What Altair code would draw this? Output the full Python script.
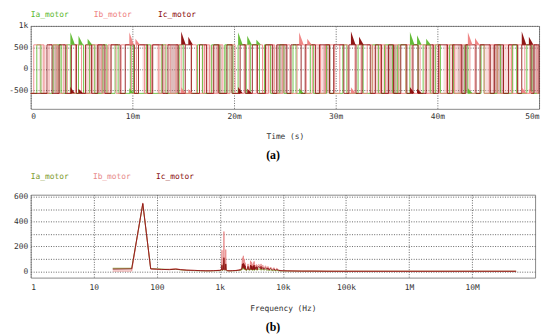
import altair as alt
import pandas as pd

# ---------------- data ----------------
SERIES = ["Ia_motor", "Ib_motor", "Ic_motor"]
TOP_COLORS = ["#5cb82e", "#ee8080", "#8b0a0a"]
BAND_COLORS = ["#a8d890", "#f2b4b4", "#b86a6a"]
BOT_COLORS = ["#7d9a2c", "#e78a8a", "#8b1010"]

HIGH, LOW = 560, -570

# switching instants (ms) of each phase current, toggling HIGH/LOW
ia_switch = [0.6, 1.0, 2.2, 3.0, 3.5, 3.9, 4.7, 5.2, 5.8, 6.3, 7.1, 7.5, 8.3, 8.6, 9.8, 10.1,
             11.4, 11.8, 12.9, 13.3, 14.6, 15.0, 16.4, 16.9, 17.8, 18.6, 19.1, 19.9, 20.4, 21.2,
             21.6, 22.5, 23.0, 23.6, 24.5, 24.9, 25.8, 26.1, 27.5, 27.8, 29.1, 29.4, 30.7, 31.1,
             32.2, 32.7, 33.6, 34.2, 34.8, 35.6, 36.1, 36.9, 37.3, 38.1, 38.6, 39.3, 39.8, 40.3,
             41.2, 41.6, 42.7, 43.0, 44.3, 44.6, 45.9, 46.2, 47.4, 47.8, 48.8, 49.3]
ib_switch = [0.3, 1.3, 1.8, 2.6, 3.2, 3.6, 4.4, 5.0, 6.0, 7.0, 7.6, 8.4, 8.9, 9.9, 10.4, 11.2,
             11.9, 12.6, 13.2, 13.7, 14.3, 14.8, 15.8, 16.3, 17.1, 17.6, 18.4, 18.9, 19.6, 20.1,
             21.0, 21.5, 22.2, 22.8, 23.4, 24.0, 24.8, 25.5, 26.2, 27.1, 27.7, 28.5, 29.0, 29.9,
             30.4, 31.2, 31.9, 32.5, 33.1, 33.6, 34.4, 34.9, 35.7, 36.2, 36.9, 37.5, 38.3, 38.8,
             39.5, 40.2, 40.9, 41.7, 42.3, 43.2, 43.7, 44.6, 45.1, 45.9, 46.5, 47.3, 47.9, 48.6,
             49.1, 49.8]
ic_switch = [1.6, 2.1, 2.8, 3.4, 4.0, 4.5, 5.4, 6.0, 6.6, 7.3, 7.9, 8.8, 9.3, 10.2, 10.6, 11.5,
             12.0, 13.0, 13.5, 14.5, 15.2, 15.8, 16.6, 17.3, 18.0, 18.5, 19.3, 19.8, 20.6, 21.1,
             21.8, 22.3, 23.1, 23.8, 24.2, 25.2, 25.6, 26.6, 27.0, 28.0, 28.4, 29.4, 29.8, 30.8,
             31.3, 32.0, 32.6, 33.4, 33.9, 34.5, 35.2, 35.7, 36.4, 37.0, 37.6, 38.1, 38.9, 39.6,
             40.1, 41.0, 41.5, 42.4, 42.8, 43.8, 44.2, 45.2, 45.6, 46.5, 47.0, 47.9, 48.3, 49.2,
             49.5, 50.0]

# intervals (ms) of very fast switching, seen as shaded bands
ia_bands = [(2.4, 3.0), (19.0, 19.8), (35.6, 36.4)]
ib_bands = [(0.8, 1.5), (5.3, 6.8), (7.2, 8.0), (11.0, 12.0), (12.4, 13.0), (16.8, 18.2),
            (22.9, 24.0), (27.9, 29.0), (33.5, 35.0), (39.0, 40.0), (40.6, 42.0),
            (44.7, 46.0), (46.5, 47.5)]
ic_bands = [(2.2, 2.8), (6.5, 7.2), (13.7, 14.6), (18.2, 18.8), (24.2, 25.2), (28.8, 29.5),
            (35.0, 36.0), (42.0, 43.0), (45.5, 46.5), (49.2, 50.0)]

# current spikes: (ms, peak value) on top level and on bottom level
ia_spk_up = [(3.9, 850), (4.7, 770), (5.6, 700), (20.4, 850), (21.3, 770), (22.2, 680),
             (37.3, 860), (38.0, 780), (38.9, 700)]
ib_spk_up = [(9.7, 850), (10.3, 700), (26.4, 850), (27.2, 700), (43.0, 850), (43.7, 720)]
ic_spk_up = [(14.8, 870), (15.5, 750), (31.5, 870), (32.3, 750), (48.3, 870), (49.0, 750)]
ia_spk_dn = [(9.7, -450), (26.4, -450), (43.0, -450)]
ib_spk_dn = [(14.8, -430), (15.5, -470), (31.5, -430), (48.3, -430), (49.0, -470)]
ic_spk_dn = [(3.9, -420), (4.7, -460), (20.4, -420), (21.3, -460), (37.3, -420), (38.0, -460)]

# FFT
freqs = [20, 40, 60, 80, 100, 120, 160, 200, 240, 300, 400, 500, 600, 700, 800, 900, 1000,
         1040, 1060, 1080, 1100, 1120, 1140, 1160, 1180, 1200, 1220, 1240, 1260, 1280, 1300, 1340,
         1400, 1500, 1600, 1800, 2000, 2200,
         2240, 2280, 2320, 2360, 2400, 2440, 2480, 2520, 2560, 2600,
         2700, 2800, 2900, 3000,
         3080, 3120, 3160, 3200, 3240, 3300,
         3400, 3460, 3500, 3540, 3600,
         3700, 3800, 3900, 4000,
         4200, 4400, 4500, 4600, 4800, 5000,
         5300, 5600, 5800, 6000,
         6400, 6800, 7200, 7600, 8000,
         8500, 9000, 10000,
         12000, 15000, 20000, 30000, 50000, 1e5, 2e5, 5e5, 1e6, 1e7, 5e7]
fa = [25, 25, 540, 22, 20, 18, 15, 18, 12, 8, 6, 5, 4, 4, 5, 6, 6,
      8, 10, 60, 10, 8, 12, 90, 12, 8, 10, 55, 10, 8, 6, 5, 4, 4, 5, 6, 8, 10,
      20, 40, 15, 45, 20, 35, 12, 30, 10, 8,
      10, 25, 8, 12,
      35, 10, 30, 12, 28, 8,
      25, 10, 30, 8, 20,
      12, 22, 8, 18,
      20, 12, 22, 10, 18, 10,
      16, 8, 14, 7,
      12, 6, 10, 5, 8,
      5, 4, 4,
      3, 3, 2, 2, 1, 1, 1, 1, 1, 1, 1]
fb = [3, 3, 550, 20, 16, 14, 18, 22, 15, 10, 8, 6, 5, 5, 6, 8, 10,
      15, 20, 170, 15, 12, 20, 320, 20, 12, 15, 175, 15, 10, 8, 6, 5, 5, 6, 8, 12, 20,
      40, 110, 30, 125, 40, 100, 25, 70, 20, 15,
      20, 60, 15, 25,
      85, 20, 75, 25, 60, 15,
      70, 20, 80, 15, 50,
      25, 55, 15, 50,
      55, 30, 60, 25, 50, 20,
      45, 20, 40, 15,
      35, 15, 30, 12, 25,
      12, 8, 6,
      5, 4, 3, 3, 2, 1, 1, 1, 1, 1, 1]
fc = [18, 20, 545, 20, 18, 16, 14, 18, 14, 10, 8, 6, 5, 5, 6, 7, 8,
      10, 12, 50, 10, 10, 15, 110, 15, 10, 12, 60, 12, 8, 6, 5, 5, 5, 6, 7, 10, 15,
      30, 60, 25, 65, 30, 55, 20, 45, 15, 12,
      15, 40, 12, 20,
      50, 15, 45, 18, 40, 12,
      45, 15, 50, 12, 35,
      20, 38, 12, 35,
      38, 22, 40, 18, 32, 15,
      30, 15, 28, 12,
      24, 10, 20, 8, 16,
      9, 6, 5,
      4, 3, 2, 2, 1, 1, 1, 1, 1, 1, 1]

# ---------------- tables ----------------
rows = []
for name, sw in zip(SERIES, [ia_switch, ib_switch, ic_switch]):
    v = LOW
    rows.append({"s": name, "t": 0.0, "v": v})
    for t in sw:
        v = HIGH if v == LOW else LOW
        rows.append({"s": name, "t": t / 1000, "v": v})
    rows.append({"s": name, "t": 0.05, "v": v})
wave = pd.DataFrame(rows)

brows = []
for name, bl in zip(SERIES, [ia_bands, ib_bands, ic_bands]):
    for a, b in bl:
        brows.append({"s": name, "t": a / 1000, "t2": b / 1000, "v": LOW, "hi": HIGH})
bands = pd.DataFrame(brows)

sp = []
k = 0
for name, ups, dns in zip(SERIES, [ia_spk_up, ib_spk_up, ic_spk_up], [ia_spk_dn, ib_spk_dn, ic_spk_dn]):
    for lst, base in ((ups, HIGH), (dns, LOW)):
        for t, p in lst:
            sp.append({"s": name, "id": k, "t": t / 1000, "v": p, "b": base})
            sp.append({"s": name, "id": k, "t": (t + 0.45) / 1000, "v": base, "b": base})
            k += 1
spikes = pd.DataFrame(sp)

fft_rows = []
for name, vals in zip(SERIES, [fa, fb, fc]):
    for f, v in zip(freqs, vals):
        fft_rows.append({"s": name, "f": f, "v": v})
fft = pd.DataFrame(fft_rows)

# ---------------- chart ----------------
MONO = "DejaVu Sans Mono"
top_color = alt.Color("s:N", scale=alt.Scale(domain=SERIES, range=TOP_COLORS), legend=None)
band_color = alt.Color("s:N", scale=alt.Scale(domain=SERIES, range=BAND_COLORS), legend=None)
bot_color = alt.Color("s:N", scale=alt.Scale(domain=SERIES, range=BOT_COLORS), legend=None)


def legend_text(label, px, color, y):
    return alt.Chart(pd.DataFrame({"a": [0]})).mark_text(
        text=label, align="left", baseline="middle", font=MONO, fontSize=8, color=color
    ).encode(x=alt.value(px), y=alt.value(y))


tx = alt.X("t:Q", scale=alt.Scale(domain=[0, 0.05], nice=False, zero=False),
           axis=alt.Axis(values=[0, 0.01, 0.02, 0.03, 0.04, 0.05], title="Time (s)",
                         labelExpr="datum.value == 0 ? '0' : format(datum.value * 1000, 'd') + 'm'",
                         labelFlush=True, labelOverlap=False, labelPadding=4, titlePadding=12))
ty = alt.Y("v:Q", scale=alt.Scale(domain=[-930, 1000], nice=False, zero=False),
           axis=alt.Axis(values=[-500, 0, 500, 1000], title=None, labelOverlap=False,
                         labelExpr="datum.value == 1000 ? '1k' : '' + datum.value"))

top_bands = alt.Chart(bands).mark_rect(opacity=0.45).encode(
    x=tx, x2="t2:Q", y=ty, y2="hi:Q", color=band_color)
top_lines = alt.Chart(wave).mark_line(interpolate="step-after", strokeWidth=1, opacity=0.85).encode(
    x=tx, y=ty, color=top_color)
top_spikes = alt.Chart(spikes).mark_area(opacity=0.95).encode(
    x=tx, y=ty, y2="b:Q", color=top_color, detail="id:N")

top = alt.layer(
    top_bands, top_lines, top_spikes,
    legend_text("Ia_motor", 0, TOP_COLORS[0], -11),
    legend_text("Ib_motor", 64, TOP_COLORS[1], -11),
    legend_text("Ic_motor", 129, TOP_COLORS[2], -11),
).resolve_scale(color="independent").properties(
    width=515, height=84,
    title=alt.TitleParams("(a)", orient="bottom", font="Liberation Serif", fontSize=12,
                          fontWeight="bold", color="black", offset=10, dx=-12, anchor="middle"),
)

bx = alt.X("f:Q", scale=alt.Scale(type="log", domain=[1, 1e8], nice=False),
           axis=alt.Axis(values=[1, 10, 100, 1000, 1e4, 1e5, 1e6, 1e7], format="~s",
                         labelOverlap=False, labelPadding=6, title="Frequency (Hz)", titlePadding=13))
by = alt.Y("v:Q", scale=alt.Scale(domain=[-50, 616], nice=False, zero=False),
           axis=alt.Axis(values=[0, 100, 200, 300, 400, 500, 600], title=None, labelOverlap=False,
                         labelExpr="datum.value % 200 == 0 ? '' + datum.value : ''"))

bot_lines = alt.Chart(fft).mark_line(strokeWidth=1, opacity=0.9).encode(x=bx, y=by, color=bot_color)

bottom = alt.layer(
    bot_lines,
    legend_text("Ia_motor", 0, BOT_COLORS[0], -18),
    legend_text("Ib_motor", 63, BOT_COLORS[1], -18),
    legend_text("Ic_motor", 127, BOT_COLORS[2], -18),
).properties(
    width=511, height=84,
    title=alt.TitleParams("(b)", orient="bottom", font="Liberation Serif", fontSize=12,
                          fontWeight="bold", color="black", offset=10, dx=-10, anchor="middle"),
)

chart = alt.vconcat(top, bottom, spacing=10).properties(padding=0).configure_view(
    stroke="#888888", strokeWidth=1
).configure_axis(
    labelFont=MONO, labelFontSize=8, labelColor="#333333", labelPadding=3, labelOverlap=False,
    titleFont=MONO, titleFontSize=8, titleFontWeight="normal", titleColor="#333333",
    ticks=False, domain=False, grid=True, gridColor="#666666", gridDash=[1, 1.5], gridWidth=1,
)

chart.save("out.html", embed_options={"renderer": "svg", "actions": False})
